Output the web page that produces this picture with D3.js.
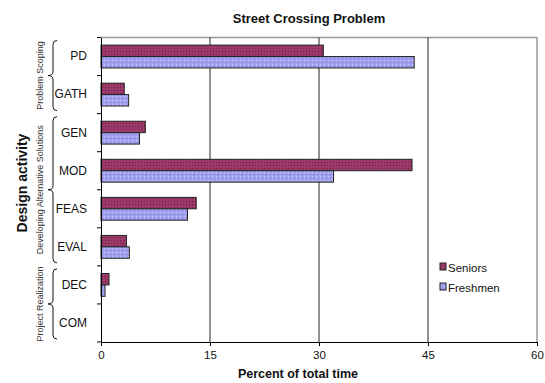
<!DOCTYPE html>
<html><head><meta charset="utf-8">
<script src="https://cdn.jsdelivr.net/npm/d3@7"></script>
<style>body{margin:0;background:#fff}svg{display:block}text{font-family:"Liberation Sans",Arial,sans-serif}</style>
</head><body><svg id="c" width="545" height="383"></svg>
<script>
const categories = ["PD","GATH","GEN","MOD","FEAS","EVAL","DEC","COM"];
const seniors  = [30.6, 3.2, 6.1, 42.8, 13.1, 3.5, 1.1, 0];
const freshmen = [43.1, 3.8, 5.3, 32.0, 11.9, 3.9, 0.55, 0];
const seriesNames = ["Seniors","Freshmen"];
const xTicks = [0,15,30,45,60];
const groups = [
  {name:"Problem Scoping", from:"PD", to:"GATH"},
  {name:"Developing Alternative Solutions", from:"GEN", to:"EVAL"},
  {name:"Project Realization", from:"DEC", to:"COM"}
];

const svg = d3.select("#c");
const L=101, R=537, T=37.5, B=342;
const x = d3.scaleLinear().domain([0,60]).range([L,R]);
const y = d3.scaleBand().domain(categories).range([T,B]);
const bw = y.bandwidth();

const defs = svg.append("defs");
const p1 = defs.append("pattern").attr("id","pS").attr("width",3).attr("height",3).attr("patternUnits","userSpaceOnUse");
p1.append("rect").attr("width",3).attr("height",3).attr("fill","#9b3a68");
p1.append("rect").attr("x",0).attr("y",0).attr("width",1).attr("height",1).attr("fill","#6a2048");
const p2 = defs.append("pattern").attr("id","pF").attr("width",4).attr("height",4).attr("patternUnits","userSpaceOnUse");
p2.append("rect").attr("width",4).attr("height",4).attr("fill","#a0a0ee");
p2.append("rect").attr("x",0).attr("y",0).attr("width",1).attr("height",1).attr("fill","#d0d0ff");
p2.append("rect").attr("x",2).attr("y",2).attr("width",1).attr("height",1).attr("fill","#8080c8");

// frame
svg.append("line").attr("x1",L).attr("x2",R).attr("y1",T).attr("y2",T).attr("stroke","#999").attr("stroke-width",1.5);
svg.append("line").attr("x1",R).attr("x2",R).attr("y1",T).attr("y2",B).attr("stroke","#999").attr("stroke-width",1.5);
// gridlines
svg.selectAll(".g").data(xTicks.filter(d=>d>0&&d<60)).join("line")
  .attr("x1",d=>x(d)).attr("x2",d=>x(d)).attr("y1",T).attr("y2",B)
  .attr("stroke","#222").attr("stroke-width",1);

// bars
const data = categories.map((c,i)=>({c, s:seniors[i], f:freshmen[i]}));
const barH = bw*0.3;
svg.selectAll(".bs").data(data.filter(d=>d.s>0)).join("rect")
  .attr("x",x(0)).attr("y",d=>y(d.c)+bw*0.2).attr("width",d=>x(d.s)-x(0)).attr("height",barH)
  .attr("fill","url(#pS)").attr("stroke","#222").attr("stroke-width",1);
svg.selectAll(".bf").data(data.filter(d=>d.f>0)).join("rect")
  .attr("x",x(0)).attr("y",d=>y(d.c)+bw*0.2+barH).attr("width",d=>x(d.f)-x(0)).attr("height",barH)
  .attr("fill","url(#pF)").attr("stroke","#222").attr("stroke-width",1);

// axes
const xa = svg.append("g").attr("transform",`translate(0,${B})`)
  .call(d3.axisBottom(x).tickValues(xTicks).tickSize(4).tickPadding(5));
xa.select(".domain").attr("stroke","#000");
xa.selectAll("text").attr("font-size",11.5).attr("fill","#111").style("font-family","Liberation Sans, Arial");
const ya = svg.append("g").attr("transform",`translate(${L},0)`)
  .call(d3.axisLeft(y).tickSize(0).tickPadding(14));
ya.select(".domain").attr("stroke","#000");
ya.selectAll("text").attr("font-size",12).attr("fill","#111").style("font-family","Liberation Sans, Arial");
// separator ticks between categories
svg.selectAll(".yt").data(d3.range(categories.length+1)).join("line")
  .attr("x1",L-4).attr("x2",L).attr("y1",i=>T+i*bw).attr("y2",i=>T+i*bw).attr("stroke","#000");

// title & axis titles
svg.append("text").attr("x",309).attr("y",23).attr("text-anchor","middle")
  .attr("font-size",13).attr("font-weight","bold").attr("fill","#111").text("Street Crossing Problem");
svg.append("text").attr("x",298).attr("y",378).attr("text-anchor","middle")
  .attr("font-size",12.5).attr("font-weight","bold").attr("fill","#111").text("Percent of total time");
svg.append("text").attr("transform","translate(27,183) rotate(-90)").attr("text-anchor","middle")
  .attr("font-size",14).attr("font-weight","bold").attr("fill","#111").text("Design activity");

// group braces
groups.forEach(g=>{
  const y0 = y(g.from)+3, y1 = y(g.to)+bw-3, ym=(y0+y1)/2;
  const xv=53, xe=57, xp=48;
  const path = `M${xe},${y0} Q${xv},${y0} ${xv},${y0+4} L${xv},${ym-4} Q${xv},${ym} ${xp},${ym} Q${xv},${ym} ${xv},${ym+4} L${xv},${y1-4} Q${xv},${y1} ${xe},${y1}`;
  svg.append("path").attr("d",path).attr("fill","none").attr("stroke","#111").attr("stroke-width",1);
  svg.append("text").attr("transform",`translate(43,${ym}) rotate(-90)`).attr("text-anchor","middle")
    .attr("font-size",9).attr("fill","#333").text(g.name);
});

// legend
const leg = svg.append("g").attr("transform","translate(440,262)");
seriesNames.forEach((n,i)=>{
  leg.append("rect").attr("x",0).attr("y",i*20+1).attr("width",6).attr("height",7)
    .attr("fill",i?"url(#pF)":"url(#pS)").attr("stroke","#222");
  leg.append("text").attr("x",8).attr("y",i*20+9.5).attr("font-size",11.5).attr("fill","#111").text(n);
});
</script></body></html>
